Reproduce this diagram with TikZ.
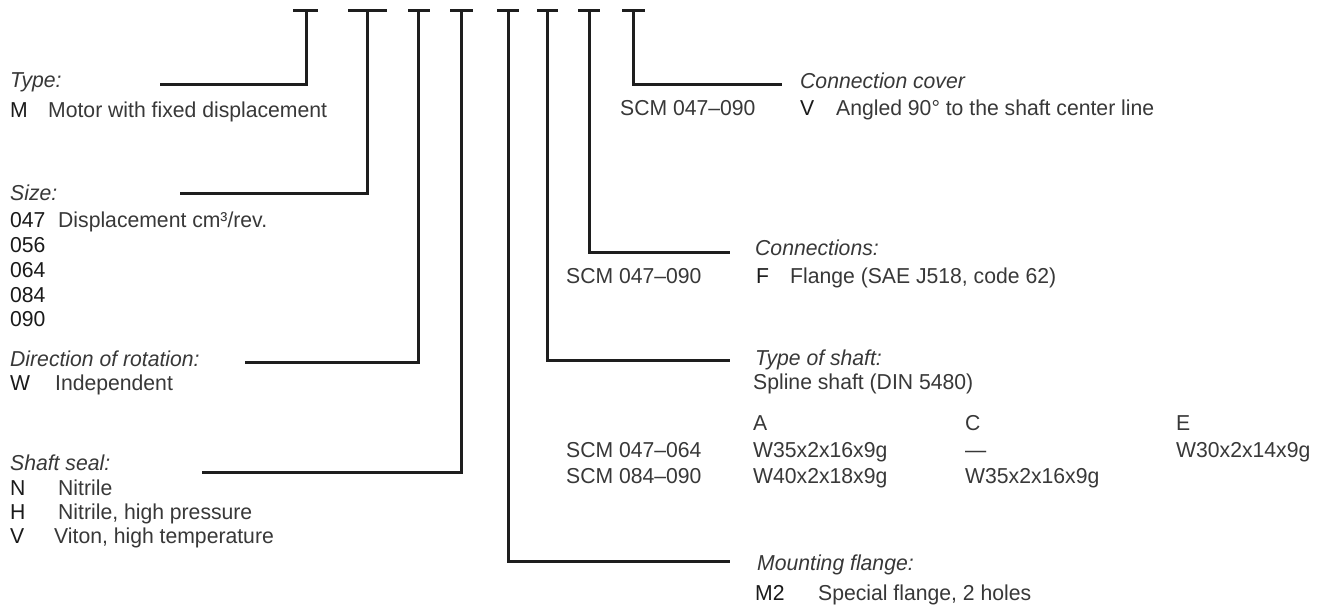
\documentclass[tikz,border=0pt]{standalone}
\usepackage{fontspec}
\setmainfont{Liberation Sans}[FakeStretch=0.98]
\definecolor{linec}{HTML}{1E1E1E}
\definecolor{textc}{HTML}{383838}
\definecolor{codec}{HTML}{1A1A1A}
\begin{document}
\begin{tikzpicture}[x=1pt,y=-1pt,
  lead/.style={line width=3pt,draw=linec,line join=miter},
  bar/.style={line width=3pt,draw=linec},
  txt/.style={anchor=base west,inner sep=0pt,text=textc,font=\fontsize{21.6}{25}\selectfont},
  ttl/.style={txt,font=\fontsize{21.6}{25}\selectfont\itshape},
  code/.style={txt,text=codec}]
\useasboundingbox[fill=white] (0,0) rectangle (1330,608);

% crossbars and stems
\foreach \l/\r/\s [count=\i] in {293/318/306,348/387/367,408/430/418,450/473/461,497/519/508,537/558/547,578/600/589,622/645/633}{
  \coordinate (bl\i) at (\l,10);
  \coordinate (br\i) at (\r,10);
  \coordinate (s\i) at (\s,10);
  \draw[bar] (bl\i) -- (br\i);
}
% leader ends
\coordinate (c1) at (306,84);  \coordinate (e1) at (160,84);
\coordinate (c2) at (367,193); \coordinate (e2) at (180,193);
\coordinate (c3) at (418,362); \coordinate (e3) at (245,362);
\coordinate (c4) at (461,472); \coordinate (e4) at (202,472);
\coordinate (c5) at (508,561); \coordinate (e5) at (730,561);
\coordinate (c6) at (547,360); \coordinate (e6) at (730,360);
\coordinate (c7) at (589,252); \coordinate (e7) at (730,252);
\coordinate (c8) at (633,84);  \coordinate (e8) at (782,84);
\foreach \i in {1,...,8}{\draw[lead] (s\i) -- (c\i) -- (e\i);}

% Type
\node[ttl] (typeT) at (10,87) {Type:};
\node[code] (typeM) at (10,117) {M};
\node[txt] (typeD) at (48,117) {Motor with fixed displacement};
% Size
\node[ttl] (sizeT) at (10,200) {Size:};
\node[code] (s047) at (10,227) {047};
\node[txt] (sizeD) at (58,227) {Displacement cm³/rev.};
\node[code] (s056) at (10,252) {056};
\node[code] (s064) at (10,277) {064};
\node[code] (s084) at (10,302) {084};
\node[code] (s090) at (10,326) {090};
% Direction
\node[ttl] (dirT) at (10,366) {Direction of rotation:};
\node[code] (dirW) at (10,390) {W};
\node[txt] (dirD) at (55,390) {Independent};
% Shaft seal
\node[ttl] (sealT) at (10,470) {Shaft seal:};
\node[code] (sealN) at (10,495) {N};
\node[txt] (sealND) at (58,495) {Nitrile};
\node[code] (sealH) at (10,519) {H};
\node[txt] (sealHD) at (58,519) {Nitrile, high pressure};
\node[code] (sealV) at (10,543) {V};
\node[txt] (sealVD) at (54,543) {Viton, high temperature};

% Connection cover
\node[ttl] (covT) at (800,88) {Connection cover};
\node[txt] (covS) at (620,115) {SCM 047–090};
\node[code] (covV) at (800,115) {V};
\node[txt] (covD) at (836,115) {Angled 90° to the shaft center line};
% Connections
\node[ttl] (conT) at (755,255) {Connections:};
\node[txt] (conS) at (566,283) {SCM 047–090};
\node[code] (conF) at (756,283) {F};
\node[txt] (conD) at (790,283) {Flange (SAE J518, code 62)};
% Type of shaft
\node[ttl] (shT) at (755,365) {Type of shaft:};
\node[txt] (shD) at (753,389) {Spline shaft (DIN 5480)};
\node[txt] (hA) at (753,430) {A};
\node[txt] (hC) at (965,430) {C};
\node[txt] (hE) at (1176,430) {E};
\node[txt] (r1) at (566,457) {SCM 047–064};
\node[txt] (r1A) at (753,457) {W35x2x16x9g};
\node[txt] (r1C) at (965,457) {—};
\node[txt] (r1E) at (1176,457) {W30x2x14x9g};
\node[txt] (r2) at (566,483) {SCM 084–090};
\node[txt] (r2A) at (753,483) {W40x2x18x9g};
\node[txt] (r2C) at (965,483) {W35x2x16x9g};
% Mounting flange
\node[ttl] (mfT) at (757,570) {Mounting flange:};
\node[code] (mfM) at (755,600) {M2};
\node[txt] (mfD) at (818,600) {Special flange, 2 holes};
\end{tikzpicture}
\end{document}
